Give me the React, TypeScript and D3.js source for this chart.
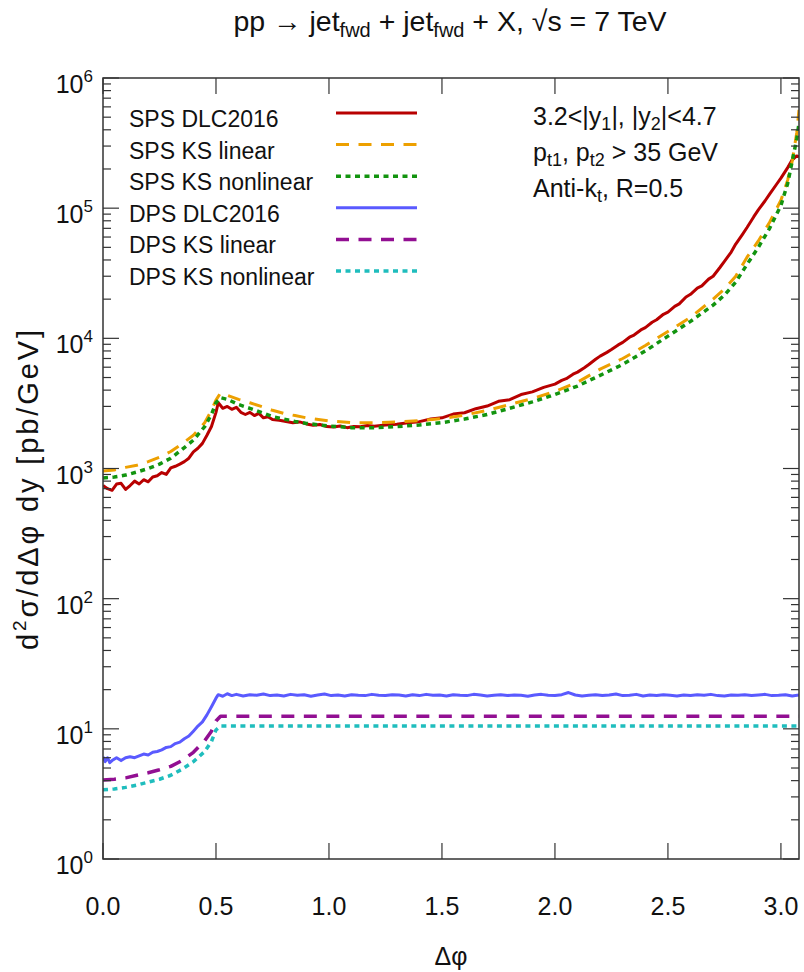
import React from 'react';
import * as d3 from 'd3';

const W = 804;
const H = 972;
const X0 = 103, X1 = 799, Y0 = 78, Y1 = 859;
const FONT = '"Liberation Sans", Arial, Helvetica, sans-serif';

// SPS curves: [delta phi, d2sigma] in pb/GeV
const spsDlc2016: [number, number][] = [
  [0.00, 740], [0.02, 700], [0.04, 680], [0.06, 760], [0.08, 770], [0.10, 690], [0.12, 740],
  [0.14, 800], [0.16, 760], [0.18, 820], [0.20, 790], [0.22, 860], [0.24, 880], [0.26, 930],
  [0.28, 900], [0.30, 1010], [0.32, 1040], [0.34, 1080], [0.36, 1130], [0.38, 1200], [0.40, 1340],
  [0.42, 1430], [0.44, 1560], [0.46, 1800], [0.48, 2100], [0.50, 2700], [0.51, 3200], [0.53, 2900],
  [0.55, 3000], [0.57, 2850], [0.59, 2950], [0.61, 2700], [0.63, 2600], [0.65, 2700], [0.67, 2550],
  [0.69, 2650], [0.71, 2450], [0.73, 2500], [0.75, 2380], [0.78, 2350], [0.81, 2300], [0.84, 2250],
  [0.87, 2280], [0.90, 2200], [0.93, 2150], [0.96, 2180], [0.99, 2100], [1.02, 2080], [1.05, 2120],
  [1.08, 2060], [1.11, 2100], [1.14, 2090], [1.17, 2140], [1.20, 2110], [1.25, 2160], [1.30, 2190],
  [1.35, 2250], [1.40, 2290], [1.45, 2400], [1.50, 2450], [1.55, 2620], [1.60, 2680], [1.65, 2880],
  [1.70, 3020], [1.75, 3280], [1.80, 3380], [1.85, 3700], [1.90, 3880], [1.95, 4200], [2.00, 4450],
  [2.03, 4750], [2.05, 4900], [2.08, 5300], [2.10, 5500], [2.13, 5950], [2.15, 6300], [2.18, 6900],
  [2.20, 7300], [2.23, 7800], [2.25, 8200], [2.28, 8900], [2.30, 9300], [2.33, 10200], [2.35, 10600],
  [2.38, 11600], [2.40, 12100], [2.43, 13300], [2.45, 13900], [2.48, 15300], [2.50, 15900],
  [2.53, 17600], [2.55, 18400], [2.58, 20800], [2.60, 21800], [2.63, 24300], [2.65, 25300],
  [2.68, 28500], [2.70, 30000], [2.73, 35000], [2.75, 39000], [2.78, 46000], [2.80, 53000],
  [2.83, 63000], [2.85, 71000], [2.88, 86000], [2.90, 97000], [2.93, 114000], [2.95, 128000],
  [2.98, 152000], [3.00, 170000], [3.03, 205000], [3.05, 235000], [3.07, 252000], [3.08, 248000],
];

const spsKsLinear: [number, number][] = [
  [0.00, 955], [0.05, 975], [0.10, 1020], [0.15, 1060], [0.20, 1130], [0.25, 1220], [0.30, 1350],
  [0.35, 1550], [0.40, 1800], [0.45, 2250], [0.48, 2800], [0.50, 3350], [0.52, 3800], [0.55, 3650],
  [0.60, 3400], [0.65, 3200], [0.70, 3000], [0.75, 2800], [0.80, 2650], [0.85, 2550], [0.90, 2450],
  [1.00, 2320], [1.10, 2250], [1.20, 2250], [1.30, 2280], [1.40, 2330], [1.50, 2420], [1.60, 2570],
  [1.70, 2800], [1.80, 3100], [1.90, 3450], [2.00, 3900], [2.10, 4600], [2.20, 5800], [2.30, 7000],
  [2.40, 8800], [2.50, 11300], [2.60, 14500], [2.70, 20000], [2.75, 24000], [2.80, 30000],
  [2.85, 42000], [2.90, 56000], [2.95, 78000], [3.00, 115000], [3.03, 165000], [3.05, 230000],
  [3.07, 380000], [3.08, 570000],
];

const spsKsNonlinear: [number, number][] = [
  [0.00, 845], [0.05, 860], [0.10, 890], [0.15, 940], [0.20, 1000], [0.25, 1080], [0.30, 1200],
  [0.35, 1400], [0.40, 1650], [0.45, 2100], [0.48, 2600], [0.50, 3200], [0.52, 3500], [0.55, 3400],
  [0.60, 3100], [0.65, 2900], [0.70, 2700], [0.75, 2500], [0.80, 2400], [0.85, 2300], [0.90, 2220],
  [1.00, 2120], [1.10, 2060], [1.20, 2060], [1.30, 2100], [1.40, 2160], [1.50, 2250], [1.60, 2400],
  [1.70, 2600], [1.80, 2900], [1.90, 3250], [2.00, 3700], [2.10, 4300], [2.20, 5200], [2.30, 6300],
  [2.40, 8000], [2.50, 10400], [2.60, 13500], [2.70, 18000], [2.75, 21500], [2.80, 27000],
  [2.85, 37000], [2.90, 50000], [2.95, 70000], [3.00, 105000], [3.03, 155000], [3.05, 230000],
  [3.07, 340000], [3.08, 450000],
];

// DPS curves
const dpsDlc2016: [number, number][] = [
  [0.00, 6.1], [0.01, 5.6], [0.02, 6.0], [0.03, 5.5], [0.04, 5.7], [0.06, 6.0], [0.08, 5.7],
  [0.10, 6.0], [0.12, 6.1], [0.14, 6.0], [0.16, 6.2], [0.18, 6.4], [0.20, 6.3], [0.22, 6.6],
  [0.24, 6.7], [0.26, 6.9], [0.28, 7.2], [0.30, 7.3], [0.32, 7.7], [0.34, 7.9], [0.36, 8.4],
  [0.38, 8.8], [0.40, 9.6], [0.42, 10.5], [0.44, 11.3], [0.46, 12.8], [0.48, 14.8], [0.50, 17.2],
  [0.51, 18.3], [0.53, 17.8], [0.55, 18.6], [0.57, 18.0], [0.59, 18.4], [0.62, 17.9], [0.65, 18.3],
  [0.68, 18.1], [0.71, 18.5], [0.74, 18.0], [0.77, 18.2], [0.80, 17.9], [0.83, 18.4], [0.86, 18.1],
  [0.89, 18.3], [0.92, 17.8], [0.95, 18.2], [0.98, 18.5], [1.01, 18.0], [1.04, 18.2], [1.07, 17.9],
  [1.10, 18.3], [1.13, 18.1], [1.16, 18.0], [1.19, 18.4], [1.22, 18.1], [1.25, 18.0], [1.28, 18.3],
  [1.31, 18.2], [1.34, 17.9], [1.37, 18.3], [1.40, 18.0], [1.43, 18.4], [1.46, 18.1], [1.49, 18.2],
  [1.52, 17.9], [1.55, 18.3], [1.58, 18.1], [1.61, 18.0], [1.64, 18.4], [1.67, 18.2], [1.70, 17.9],
  [1.73, 18.1], [1.76, 18.3], [1.79, 18.0], [1.82, 18.2], [1.85, 18.1], [1.88, 17.8], [1.91, 18.2],
  [1.94, 18.4], [1.97, 18.1], [2.00, 18.0], [2.03, 18.3], [2.06, 19.0], [2.09, 18.2], [2.12, 17.9],
  [2.15, 18.1], [2.18, 18.3], [2.21, 18.0], [2.24, 18.2], [2.27, 18.5], [2.30, 18.0], [2.33, 18.1],
  [2.36, 18.4], [2.39, 17.9], [2.42, 18.2], [2.45, 18.0], [2.48, 18.3], [2.51, 18.1], [2.54, 17.9],
  [2.57, 18.2], [2.60, 18.0], [2.63, 18.3], [2.66, 18.1], [2.69, 18.4], [2.72, 18.0], [2.75, 17.9],
  [2.78, 18.2], [2.81, 18.1], [2.84, 18.3], [2.87, 18.0], [2.90, 18.2], [2.93, 18.4], [2.96, 18.0],
  [2.99, 18.1], [3.02, 18.3], [3.05, 17.9], [3.08, 18.2],
];

const dpsKsLinear: [number, number][] = [
  [0.00, 4.05], [0.05, 4.1], [0.10, 4.2], [0.15, 4.4], [0.20, 4.6], [0.25, 4.85], [0.30, 5.15],
  [0.35, 5.7], [0.40, 6.6], [0.45, 8.1], [0.48, 9.6], [0.50, 11.5], [0.52, 12.5], [1.00, 12.5],
  [2.00, 12.5], [3.08, 12.5],
];

const dpsKsNonlinear: [number, number][] = [
  [0.00, 3.4], [0.05, 3.45], [0.10, 3.55], [0.15, 3.7], [0.20, 3.9], [0.25, 4.1], [0.30, 4.4],
  [0.35, 4.9], [0.40, 5.6], [0.45, 6.7], [0.48, 8.0], [0.50, 9.8], [0.52, 10.5], [1.00, 10.5],
  [2.00, 10.5], [3.08, 10.5],
];

const xTickValues = [0, 0.5, 1, 1.5, 2, 2.5, 3];
const yDecades = [0, 1, 2, 3, 4, 5, 6];

const series = [
  { name: 'SPS DLC2016', data: spsDlc2016, color: '#b80000', dash: '', width: 3 },
  { name: 'SPS KS linear', data: spsKsLinear, color: '#eda000', dash: '13,9.5', width: 3 },
  { name: 'SPS KS nonlinear', data: spsKsNonlinear, color: '#12940f', dash: '5,4.5', width: 3.5 },
  { name: 'DPS DLC2016', data: dpsDlc2016, color: '#5a5aff', dash: '', width: 3 },
  { name: 'DPS KS linear', data: dpsKsLinear, color: '#920f92', dash: '13,9.5', width: 3.5 },
  { name: 'DPS KS nonlinear', data: dpsKsNonlinear, color: '#1fbdbd', dash: '5,4.5', width: 3.5 },
];

export default function App() {
  const x = d3.scaleLinear().domain([0, 3.08]).range([X0, X1]);
  const y = d3.scaleLog().domain([1, 1e6]).range([Y1, Y0]);
  const line = d3.line<[number, number]>().x(d => x(d[0])).y(d => y(d[1]));

  const minor: number[] = [];
  yDecades.slice(0, -1).forEach(e => {
    for (let m = 2; m <= 9; m++) minor.push(m * Math.pow(10, e));
  });

  const axisColor = '#333';

  return (
    <svg width={W} height={H} style={{ display: 'block', position: 'absolute', left: 0, top: 0 }}
      fontFamily={FONT}>
      <rect width={W} height={H} fill="#fff" />
      <defs>
        <clipPath id="plot">
          <rect x={X0} y={Y0} width={X1 - X0} height={Y1 - Y0} />
        </clipPath>
      </defs>

      {/* title */}
      <text x={450} y={31} fontSize={28.5} textAnchor="middle" fill="#111">
        pp → jet<tspan fontSize={20} dy={6}>fwd</tspan>
        <tspan dy={-6}> + jet</tspan><tspan fontSize={20} dy={6}>fwd</tspan>
        <tspan dy={-6}> + X, √s = 7 TeV</tspan>
      </text>

      {/* curves */}
      <g clipPath="url(#plot)">
        {series.map(s => (
          <path key={s.name} d={line(s.data) ?? ''} fill="none" stroke={s.color}
            strokeWidth={s.width} strokeDasharray={s.dash || undefined} strokeLinejoin="round" />
        ))}
      </g>

      {/* ticks */}
      <g stroke={axisColor} strokeWidth={1.2}>
        {xTickValues.map(t => (
          <g key={'xt' + t}>
            <line x1={x(t)} x2={x(t)} y1={Y1} y2={Y1 - 16} />
            <line x1={x(t)} x2={x(t)} y1={Y0} y2={Y0 + 16} />
          </g>
        ))}
        {yDecades.map(e => (
          <g key={'yt' + e}>
            <line x1={X0} x2={X0 + 16} y1={y(Math.pow(10, e))} y2={y(Math.pow(10, e))} />
            <line x1={X1} x2={X1 - 16} y1={y(Math.pow(10, e))} y2={y(Math.pow(10, e))} />
          </g>
        ))}
        {minor.map(v => (
          <g key={'ym' + v}>
            <line x1={X0} x2={X0 + 8} y1={y(v)} y2={y(v)} />
            <line x1={X1} x2={X1 - 8} y1={y(v)} y2={y(v)} />
          </g>
        ))}
      </g>
      <rect x={X0} y={Y0} width={X1 - X0} height={Y1 - Y0} fill="none" stroke={axisColor} strokeWidth={1.5} />

      {/* tick labels */}
      {xTickValues.map(t => (
        <text key={'xl' + t} x={x(t)} y={915} fontSize={25} textAnchor="middle" fill="#111">
          {t.toFixed(1)}
        </text>
      ))}
      {yDecades.map(e => (
        <text key={'yl' + e} x={93} y={y(Math.pow(10, e)) + 15} fontSize={25} textAnchor="end" fill="#111">
          10<tspan fontSize={17} dy={-11}>{e}</tspan>
        </text>
      ))}

      {/* axis titles */}
      <text x={451} y={965} fontSize={25} textAnchor="middle" fill="#111">Δφ</text>
      <text transform="translate(38,490) rotate(-90)" fontSize={29} textAnchor="middle" fill="#111"
        textLength={320} lengthAdjust="spacing">
        d<tspan fontSize={19} dy={-12}>2</tspan><tspan dy={12}>σ/dΔφ dy [pb/GeV]</tspan>
      </text>

      {/* legend */}
      {series.map((s, i) => {
        const base = 127 + i * 31.6;
        return (
          <g key={'lg' + s.name}>
            <text x={129} y={base} fontSize={23} fill="#111">{s.name}</text>
            <line x1={336} x2={417} y1={base - 14} y2={base - 14} stroke={s.color}
              strokeWidth={s.width} strokeDasharray={s.dash || undefined} />
          </g>
        );
      })}

      {/* cuts annotation */}
      <g fontSize={25} fill="#111">
        <text x={533} y={125}>
          3.2&lt;|y<tspan fontSize={18} dy={5}>1</tspan><tspan dy={-5}>|, |y</tspan>
          <tspan fontSize={18} dy={5}>2</tspan><tspan dy={-5}>|&lt;4.7</tspan>
        </text>
        <text x={533} y={161}>
          p<tspan fontSize={18} dy={5}>t1</tspan><tspan dy={-5}>, p</tspan>
          <tspan fontSize={18} dy={5}>t2</tspan><tspan dy={-5}> &gt; 35 GeV</tspan>
        </text>
        <text x={533} y={197}>
          Anti-k<tspan fontSize={18} dy={5}>t</tspan><tspan dy={-5}>, R=0.5</tspan>
        </text>
      </g>
    </svg>
  );
}
